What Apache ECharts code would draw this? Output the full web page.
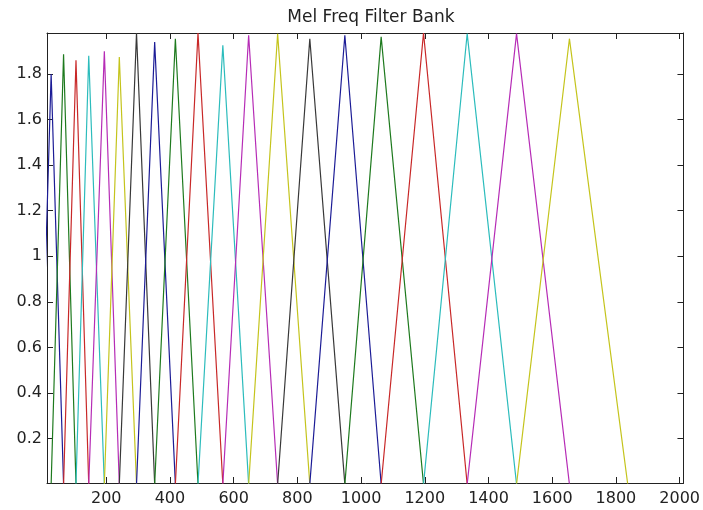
<!DOCTYPE html>
<html>
<head>
<meta charset="utf-8">
<script src="https://cdn.jsdelivr.net/npm/echarts@6/dist/echarts.min.js"></script>
<style>
html,body{margin:0;padding:0;background:#fff;}
#chart{width:703px;height:510px;}
</style>
</head>
<body>
<div id="chart"></div>
<script>
// Filter centre frequencies (peak positions), in order of plotting
const centers = [27, 66, 105, 145, 194, 241, 295, 352, 417, 488, 566, 647, 738, 839, 949, 1063, 1196, 1333, 1488, 1654];
// Edge before the first centre and after the last centre
const leftEdge = -11;
const rightEdge = 1837;
// Peak heights of each filter
const peaks = [1.80, 1.887, 1.86, 1.88, 1.90, 1.875, 1.98, 1.94, 1.955, 1.98, 1.926, 1.97, 1.977, 1.955, 1.97, 1.963, 1.98, 1.977, 1.977, 1.955];
// Axis limits
const xRange = [14, 2012];
const yRange = [0.005, 1.98];
const title = 'Mel Freq Filter Bank';

const palette = ['#1c1c96', '#1e7a1e', '#c82828', '#2cbcbc', '#b62cb6', '#c4c41c', '#383838'];

const edges = [leftEdge].concat(centers, [rightEdge]);
const series = centers.map((c, i) => ({
  type: 'line',
  data: [[edges[i], 0], [c, peaks[i]], [edges[i + 2], 0]],
  showSymbol: false,
  symbol: 'none',
  clip: true,
  animation: false,
  lineStyle: { width: 1.2, color: palette[i % palette.length] },
  xAxisIndex: 0,
  yAxisIndex: 0
}));

const font = 'DejaVu Sans';
const fmt = v => String(Math.round(v * 100) / 100);
const axisCommon = {
  type: 'value',
  splitNumber: 10,
  splitLine: { show: false },
  axisLine: { show: true, onZero: false, lineStyle: { color: '#222', width: 1 } },
  axisTick: { show: true, inside: true, length: 6, lineStyle: { color: '#222', width: 1 } }
};

const chart = echarts.init(document.getElementById('chart'), null, { renderer: 'canvas' });
chart.setOption({
  backgroundColor: '#fff',
  animation: false,
  title: {
    text: title,
    left: 366, top: 4, textAlign: 'center',
    textStyle: { fontFamily: font, fontSize: 17, fontWeight: 'normal', color: '#222' }
  },
  grid: { left: 47, right: 17, top: 33, bottom: 27, containLabel: false },
  xAxis: [
    Object.assign({}, axisCommon, {
      position: 'bottom', min: xRange[0], max: xRange[1],
      axisLabel: { show: true, showMinLabel: false, showMaxLabel: false, margin: 8,
        fontFamily: font, fontSize: 16, color: '#222', formatter: fmt }
    }),
    Object.assign({}, axisCommon, {
      position: 'top', min: xRange[0], max: xRange[1],
      axisLabel: { show: false }
    })
  ],
  yAxis: [
    Object.assign({}, axisCommon, {
      position: 'left', min: yRange[0], max: yRange[1],
      axisLabel: { show: true, showMinLabel: false, showMaxLabel: false, margin: 5,
        fontFamily: font, fontSize: 16, color: '#222', formatter: fmt }
    }),
    Object.assign({}, axisCommon, {
      position: 'right', min: yRange[0], max: yRange[1],
      axisLabel: { show: false }
    })
  ],
  series: series
});
</script>
</body>
</html>
